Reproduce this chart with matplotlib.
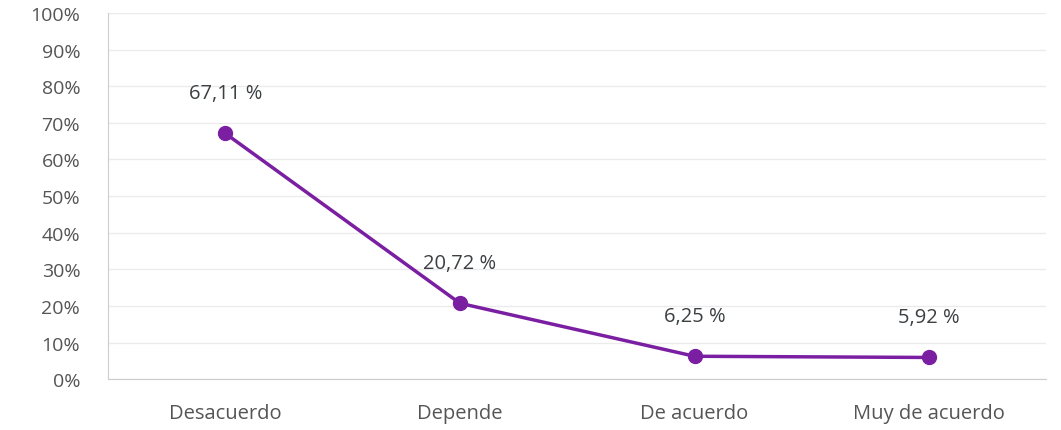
import matplotlib
matplotlib.use('Agg')
import matplotlib.pyplot as plt
from matplotlib.ticker import FuncFormatter

categories = ['Desacuerdo', 'Depende', 'De acuerdo', 'Muy de acuerdo']
values = [67.11, 20.72, 6.25, 5.92]
labels = ['67,11 %', '20,72 %', '6,25 %', '5,92 %']

plt.rcParams['font.family'] = ['Open Sans', 'DejaVu Sans']

fig = plt.figure(figsize=(10.61, 4.31), dpi=100)
ax = fig.add_axes([0.1018, 0.118, 0.8845, 0.8495])

x = list(range(len(categories)))
ax.plot(x, values, color='#7b1fa2', linewidth=2.5, marker='o', markersize=10, zorder=3)

# Подписи значений над точками
for xi, v, lab in zip(x, values, labels):
    ax.annotate(lab, (xi, v), xytext=(0, 22), textcoords='offset points',
                ha='center', va='bottom', fontsize=14.5, color='#3c4043')

ax.set_xlim(-0.5, 3.5)
ax.set_ylim(0, 100)
ax.set_yticks(range(0, 101, 10))
ax.yaxis.set_major_formatter(FuncFormatter(lambda v, p: f'{int(v)}%'))
ax.set_xticks(x)
ax.set_xticklabels(categories)

ax.grid(axis='y', color='#ebebeb', linewidth=1)
ax.set_axisbelow(True)
for s in ['top', 'right']:
    ax.spines[s].set_visible(False)
ax.spines['left'].set_color('#cccccc')
ax.spines['bottom'].set_color('#cccccc')
ax.tick_params(axis='both', length=0, labelcolor='#555555')
ax.tick_params(axis='y', pad=20, labelsize=14)
ax.tick_params(axis='x', pad=17, labelsize=14.5)

fig.savefig('out.png', dpi=100)
